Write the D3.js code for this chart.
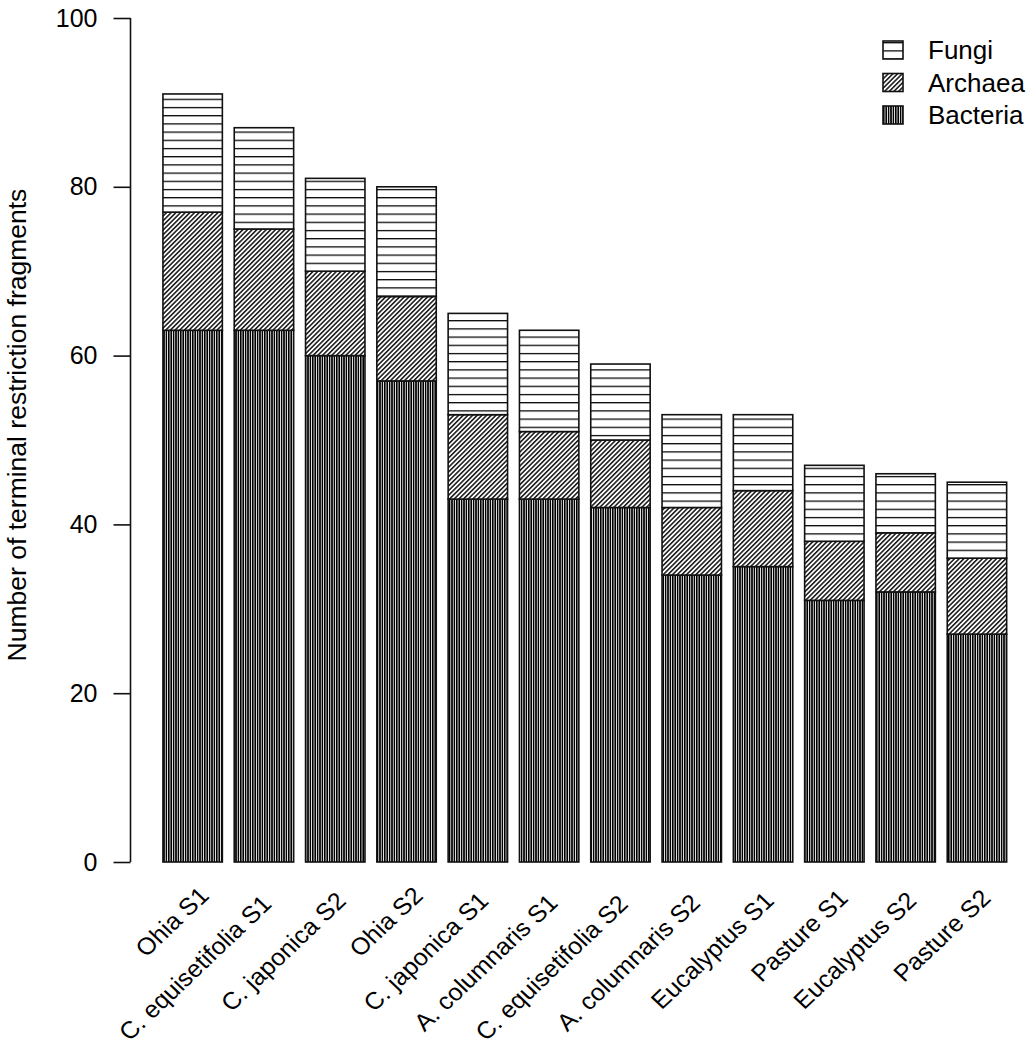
<!DOCTYPE html>
<html>
<head>
<meta charset="UTF-8">
<title>Terminal restriction fragments</title>
<script type="text/javascript" src="https://cdn.jsdelivr.net/npm/d3@7/dist/d3.min.js"></script>
<style>
body {margin: 0; background: #fff; font-family: "Liberation Sans", Arial, Helvetica, sans-serif;}
svg text {fill: #000;}
</style>
</head>
<body>
<div id="chart"></div>
<script type="text/javascript">
// sample names, in plotting order
var samples = ["Ohia S1", "C. equisetifolia S1", "C. japonica S2", "Ohia S2",
               "C. japonica S1", "A. columnaris S1", "C. equisetifolia S2",
               "A. columnaris S2", "Eucalyptus S1", "Pasture S1",
               "Eucalyptus S2", "Pasture S2"];
// number of T-RFs per domain
var bacteria = [63, 63, 60, 57, 43, 43, 42, 34, 35, 31, 32, 27];
var archaea  = [14, 12, 10, 10, 10,  8,  8,  8,  9,  7,  7,  9];
var fungi    = [14, 12, 11, 13, 12, 12,  9, 11,  9,  9,  7,  9];
var groups = ["Bacteria", "Archaea", "Fungi"];
var yTicks = [0, 20, 40, 60, 80, 100];

//Width and height
var w = 1036;
var h = 1050;

var svg = d3.select("#chart")
      .append("svg")
      .attr("width", w)
      .attr("height", h);

// hatch patterns (R style density lines)
var defs = svg.append("defs");

var pBact = defs.append("pattern")
      .attr("id", "hBacteria")
      .attr("patternUnits", "userSpaceOnUse")
      .attr("width", 2.4)
      .attr("height", 10);
pBact.append("rect").attr("width", 2.4).attr("height", 10).attr("fill", "#fff");
pBact.append("line").attr("x1", 0.8).attr("x2", 0.8).attr("y1", 0).attr("y2", 10)
      .attr("stroke", "#000").attr("stroke-width", 1.6);

var pArch = defs.append("pattern")
      .attr("id", "hArchaea")
      .attr("patternUnits", "userSpaceOnUse")
      .attr("width", 3.3)
      .attr("height", 10)
      .attr("patternTransform", "rotate(45)");
pArch.append("rect").attr("width", 3.3).attr("height", 10).attr("fill", "#fff");
pArch.append("line").attr("x1", 0.8).attr("x2", 0.8).attr("y1", 0).attr("y2", 10)
      .attr("stroke", "#000").attr("stroke-width", 1.4);

var pFung = defs.append("pattern")
      .attr("id", "hFungi")
      .attr("patternUnits", "userSpaceOnUse")
      .attr("y", 0.3)
      .attr("width", 10)
      .attr("height", 8.2);
pFung.append("rect").attr("width", 10).attr("height", 8.2).attr("fill", "#fff");
pFung.append("line").attr("x1", 0).attr("x2", 10).attr("y1", 0.5).attr("y2", 0.5)
      .attr("stroke", "#000").attr("stroke-width", 1.5);

var fillOf = {Bacteria: "url(#hBacteria)", Archaea: "url(#hArchaea)", Fungi: "url(#hFungi)"};

// scales
var y = d3.scaleLinear().domain([0, 100]).range([862, 18]);
var x = d3.scaleBand()
      .domain(samples)
      .range([157, 1012.6])
      .paddingInner(0.1667)
      .paddingOuter(0.0833);

// stack the three domains
var table = samples.map(function(s, i) {
  return {sample: s, Bacteria: bacteria[i], Archaea: archaea[i], Fungi: fungi[i]};
});
var series = d3.stack().keys(groups)(table);

svg.append("g")
  .selectAll("g")
  .data(series)
  .enter()
  .append("g")
  .attr("fill", function(d) { return fillOf[d.key]; })
  .selectAll("rect")
  .data(function(d) { return d; })
  .enter()
  .append("rect")
  .attr("x", function(d) { return x(d.data.sample); })
  .attr("width", x.bandwidth())
  .attr("y", function(d) { return y(d[1]); })
  .attr("height", function(d) { return y(d[0]) - y(d[1]); })
  .attr("stroke", "#111")
  .attr("stroke-width", 1.6);

// y axis, R style
var yAxis = svg.append("g")
      .attr("transform", "translate(130.5,0)")
      .call(d3.axisLeft(y).tickValues(yTicks).tickSize(17).tickPadding(16));
yAxis.selectAll("path, line").attr("stroke", "#111").attr("stroke-width", 1.6);
yAxis.select(".domain").attr("d", "M0," + y(0) + "V" + y(100));
yAxis.selectAll("text")
  .style("font-family", "'Liberation Sans', Arial, sans-serif")
  .style("font-size", "25px")
  .attr("fill", "#000");

svg.append("text")
  .attr("transform", "translate(26,425) rotate(-90)")
  .attr("text-anchor", "middle")
  .style("font-size", "26.5px")
  .text("Number of terminal restriction fragments");

// rotated sample labels (picture is a little wider than tall, hence the scale)
svg.append("g")
  .selectAll("text")
  .data(samples)
  .enter()
  .append("text")
  .attr("transform", function(d) {
    return "translate(" + (x(d) + x.bandwidth() / 2 + 12) + ",878) scale(1.05,1) rotate(-45)";
  })
  .attr("text-anchor", "end")
  .attr("dy", "0.72em")
  .style("font-size", "24px")
  .text(function(d) { return d; })
  .each(function() {
    d3.select(this).attr("dx", -0.11 * this.getComputedTextLength());
  });

// legend
var legend = svg.append("g")
  .selectAll("g")
  .data(groups.slice().reverse())
  .enter()
  .append("g")
  .attr("transform", function(d, i) { return "translate(883," + (50 + i * 32.5) + ")"; });

legend.append("rect")
  .attr("x", 0)
  .attr("y", -9)
  .attr("width", 20)
  .attr("height", 18)
  .attr("fill", function(d) { return fillOf[d]; })
  .attr("stroke", "#111")
  .attr("stroke-width", 1.6);

legend.append("text")
  .attr("x", 45)
  .attr("dy", "0.36em")
  .style("font-size", "26px")
  .text(function(d) { return d; });
</script>
</body>
</html>
